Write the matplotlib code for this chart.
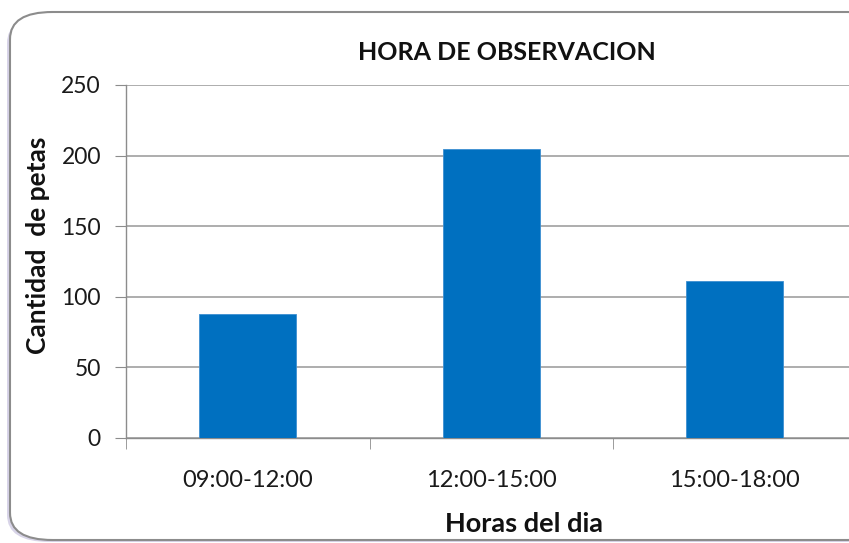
import matplotlib.pyplot as plt
from matplotlib.patches import FancyBboxPatch
from matplotlib.ticker import FixedLocator

# data
horas = ['09:00-12:00', '12:00-15:00', '15:00-18:00']
cantidad = [88, 205, 111]
yticks = [0, 50, 100, 150, 200, 250]

plt.rcParams['font.family'] = ['Lato', 'DejaVu Sans']

W, H = 849, 543
fig = plt.figure(figsize=(W / 100, H / 100), dpi=100)

# rounded chart frame with a faint shadow
shadow = FancyBboxPatch((7 / W, 1 / H), 880 / W, 526 / H,
                        boxstyle='round,pad=0,rounding_size=0.05',
                        transform=fig.transFigure, facecolor='#d8d4e8',
                        edgecolor='none', zorder=0)
frame = FancyBboxPatch((10 / W, 3 / H), 880 / W, 528 / H,
                       boxstyle='round,pad=0,rounding_size=0.05',
                       transform=fig.transFigure, facecolor='white',
                       edgecolor='#8c8c8c', linewidth=1.5, zorder=1)
fig.patches.extend([shadow, frame])

ax = fig.add_axes([126 / W, (H - 438) / H, 730.5 / W, 353 / H])
ax.set_facecolor('none')
ax.set_zorder(2)

x = list(range(1, len(horas) + 1))
ax.bar(x, cantidad, width=0.4, color='#0070C0', edgecolor='#3d8fd1',
       linewidth=0.6, zorder=3)

ax.set_xlim(0.5, len(horas) + 0.5)
ax.set_ylim(0, 250)
ax.set_yticks(yticks)
ax.yaxis.grid(True, color='#a0a0a0', linewidth=1.2, zorder=0)
ax.set_xticks(x)
ax.set_xticklabels(horas)
ax.xaxis.set_minor_locator(FixedLocator([0.5 + i for i in range(len(horas) + 1)]))

for s in ['top', 'right']:
    ax.spines[s].set_visible(False)
for s in ['left', 'bottom']:
    ax.spines[s].set_color('#8c8c8c')
    ax.spines[s].set_linewidth(1.0)

ax.tick_params(axis='y', length=8, color='#8c8c8c', pad=10, labelsize=16.5,
               labelcolor='#1a1a1a')
ax.tick_params(axis='x', which='major', length=0, pad=23, labelsize=17,
               labelcolor='#1a1a1a')
ax.tick_params(axis='x', which='minor', length=8, color='#8c8c8c')

fig.text(507 / W, 1 - 52 / H, 'HORA DE OBSERVACION', ha='center', va='center',
         fontsize=18, fontweight='bold', color='#111111')
fig.text(38 / W, 1 - 245 / H, 'Cantidad  de petas', ha='center', va='center',
         rotation=90, fontsize=19, fontweight='bold', color='#111111')
fig.text(524 / W, 1 - 524 / H, 'Horas del dia', ha='center', va='center',
         fontsize=19.5, fontweight='bold', color='#111111')

fig.savefig('out.png', dpi=100)
